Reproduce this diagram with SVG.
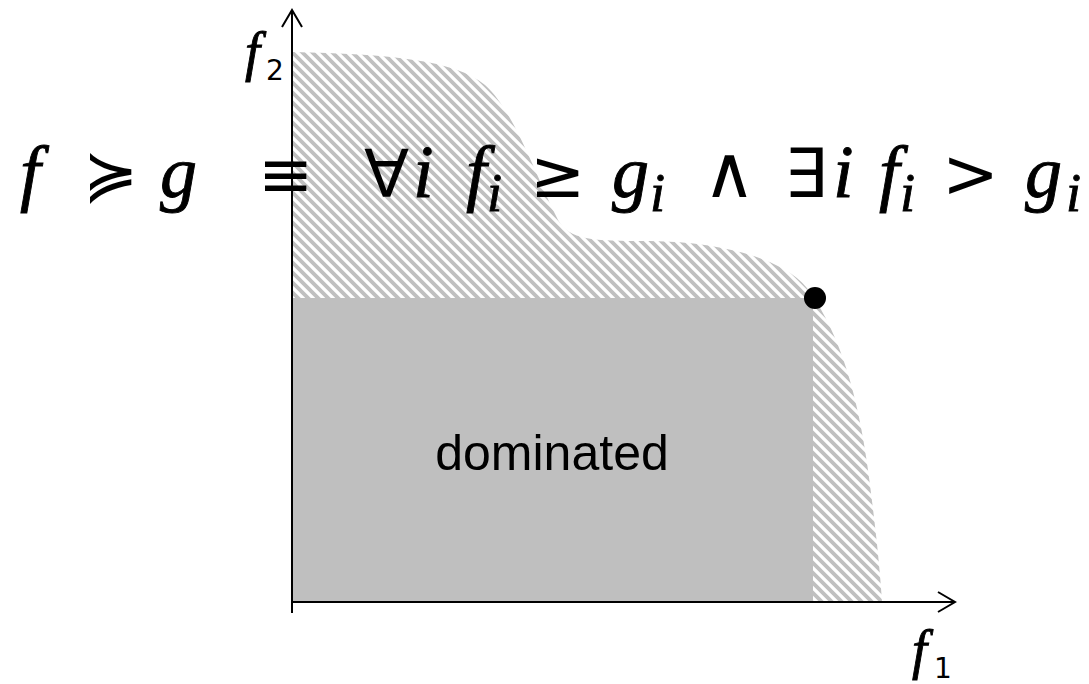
<svg xmlns="http://www.w3.org/2000/svg" width="1089" height="684" viewBox="0 0 1089 684">
  <defs>
    <pattern id="hatch" patternUnits="userSpaceOnUse" width="10" height="10">
      <path d="M-3,-3 L13,13 M-3,7 L3,13 M7,-3 L13,3" stroke="#c0c0c0" stroke-width="3.8" fill="none"/>
    </pattern>
    <marker id="arrow" viewBox="0 0 20 24" refX="18" refY="12" markerWidth="20" markerHeight="24" markerUnits="userSpaceOnUse" orient="auto">
      <path d="M1,2 L18,12 L1,22" fill="none" stroke="#000" stroke-width="2"/>
    </marker>
    <style>
      .math { font-family: "Liberation Serif", "DejaVu Serif", serif; font-style: italic; fill: #000; stroke: #000; stroke-width: 0.9; }
      .sym { font-family: "DejaVu Sans", sans-serif; font-style: normal; fill: #000; stroke: none; }
      .axis { stroke: #000; stroke-width: 2; fill: none; }
      .label { font-family: "Liberation Sans", Arial, sans-serif; fill: #000; }
    </style>
  </defs>
  <rect width="1089" height="684" fill="#fff"/>
  <g id="feasible">
    <path d="M292,52 C390,54 455,60 485,85 C515,112 535,175 558,220 C570,240 590,241 650,241 C730,242 790,262 810,292 C840,335 858,395 868,470 C876,530 880,570 882,602 L292,602 Z" fill="url(#hatch)"/>
  </g>
  <g id="dominated">
    <rect x="292" y="298" width="521" height="304" fill="#bfbfbf"/>
    <text class="label" x="552" y="470" font-size="50" text-anchor="middle">dominated</text>
  </g>
  <g id="point">
    <circle cx="815" cy="298" r="11" fill="#000"/>
  </g>
  <g id="connectors">
    <line class="axis" x1="292" y1="613" x2="292" y2="10" marker-end="url(#arrow)"/>
    <line class="axis" x1="291" y1="602" x2="955" y2="602" marker-end="url(#arrow)"/>
  </g>
  <g id="axis-labels">
    <text class="math" x="245" y="70" font-size="54">f</text>
    <text class="sym" x="266" y="80" font-size="28">2</text>
    <text class="math" x="912" y="668" font-size="54">f</text>
    <text class="sym" x="934" y="678" font-size="28">1</text>
  </g>
  <g id="formula">
    <text font-size="74" y="197">
      <tspan class="math" x="20">f</tspan>
      <tspan class="sym" x="83" font-size="66">≽</tspan>
      <tspan class="math" x="160">g</tspan>
      <tspan class="sym" x="258" font-size="66">≡</tspan>
      <tspan class="sym" x="364" font-size="66">∀</tspan>
      <tspan class="math" x="413">i</tspan>
      <tspan class="math" x="466">f</tspan>
      <tspan class="math" x="487" y="211" font-size="54">i</tspan>
      <tspan class="sym" x="530" y="197" font-size="66">≥</tspan>
      <tspan class="math" x="612">g</tspan>
      <tspan class="math" x="650" y="211" font-size="54">i</tspan>
      <tspan class="sym" x="703" y="197" font-size="72">∧</tspan>
      <tspan class="sym" x="784" font-size="68">∃</tspan>
      <tspan class="math" x="833">i</tspan>
      <tspan class="math" x="879">f</tspan>
      <tspan class="math" x="900" y="211" font-size="54">i</tspan>
      <tspan class="sym" x="942" y="197" font-size="68">&gt;</tspan>
      <tspan class="math" x="1025">g</tspan>
      <tspan class="math" x="1066" y="211" font-size="54">i</tspan>
    </text>
  </g>
</svg>
